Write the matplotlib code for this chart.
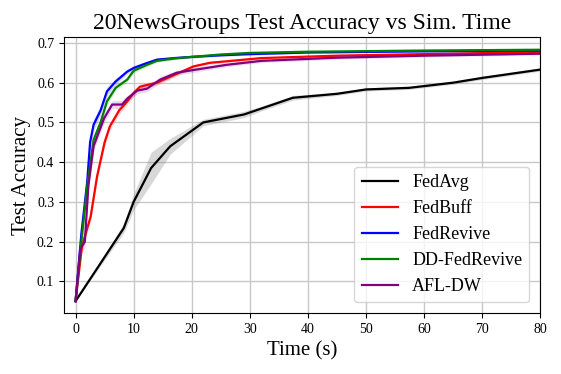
import numpy as np
import matplotlib
matplotlib.use("Agg")
import matplotlib.pyplot as plt

plt.rcParams["font.family"] = ["Liberation Serif", "DejaVu Serif"]

# ------------------------------------------------------------------
# DATA
# ------------------------------------------------------------------
fedavg_t = [0, 8.3, 10, 13, 16.3, 22, 29, 32, 37.4, 45, 50, 57.4, 65, 70, 80]
fedavg_acc = [0.05, 0.234, 0.30, 0.385, 0.44, 0.50, 0.52, 0.535, 0.562, 0.572, 0.583, 0.587, 0.60, 0.612, 0.633]
fedavg_std = [0.0, 0.012, 0.02, 0.04, 0.02, 0.008, 0.008, 0.006, 0.006, 0.004, 0.004, 0.004, 0.004, 0.004, 0.004]

fedbuff_t = [0, 1.1, 2.6, 3.7, 5.0, 5.9, 7.5, 8.9, 10, 11.1, 14, 16.3, 20.3, 23.1, 32, 45, 60, 80]
fedbuff_acc = [0.05, 0.188, 0.263, 0.364, 0.45, 0.49, 0.53, 0.553, 0.574, 0.59, 0.60, 0.615, 0.641, 0.65, 0.662, 0.668, 0.672, 0.677]
fedbuff_std = [0.0, 0.01, 0.012, 0.012, 0.012, 0.01, 0.01, 0.008, 0.008, 0.006, 0.006, 0.006, 0.004, 0.004, 0.003, 0.003, 0.003, 0.003]

fedrevive_t = [0, 1.0, 2.0, 2.5, 3.1, 4.3, 5.4, 6.9, 8.9, 10, 12, 14, 17, 20, 25, 30, 40, 60, 80]
fedrevive_acc = [0.05, 0.22, 0.35, 0.45, 0.494, 0.53, 0.578, 0.603, 0.628, 0.637, 0.648, 0.658, 0.662, 0.665, 0.669, 0.672, 0.676, 0.679, 0.681]
fedrevive_std = [0.0, 0.02, 0.02, 0.02, 0.015, 0.012, 0.012, 0.008, 0.006, 0.006, 0.005, 0.004, 0.003, 0.003, 0.003, 0.003, 0.002, 0.002, 0.002]

ddfedrevive_t = [0, 1.0, 2.0, 3.1, 4.3, 5.4, 6.9, 8.9, 10, 12.3, 14, 17, 20, 25, 30, 40, 60, 80]
ddfedrevive_acc = [0.05, 0.20, 0.34, 0.456, 0.50, 0.553, 0.587, 0.608, 0.63, 0.645, 0.655, 0.661, 0.665, 0.671, 0.675, 0.678, 0.681, 0.683]
ddfedrevive_std = [0.0, 0.015, 0.015, 0.012, 0.01, 0.01, 0.008, 0.006, 0.006, 0.005, 0.004, 0.003, 0.003, 0.003, 0.003, 0.002, 0.002, 0.002]

afldw_t = [0, 0.8, 1.6, 2.2, 3.1, 4.9, 6.3, 8.0, 8.9, 10.6, 12.3, 14.6, 17.4, 20.3, 26, 32, 45, 60, 80]
afldw_acc = [0.05, 0.18, 0.20, 0.34, 0.44, 0.51, 0.545, 0.545, 0.56, 0.58, 0.585, 0.608, 0.625, 0.632, 0.645, 0.655, 0.663, 0.668, 0.673]
afldw_std = [0.0, 0.015, 0.015, 0.015, 0.012, 0.012, 0.01, 0.01, 0.008, 0.008, 0.008, 0.008, 0.006, 0.006, 0.005, 0.004, 0.004, 0.003, 0.003]

series = [
    ("FedAvg", fedavg_t, fedavg_acc, fedavg_std, "black", "gray"),
    ("FedBuff", fedbuff_t, fedbuff_acc, fedbuff_std, "red", "red"),
    ("FedRevive", fedrevive_t, fedrevive_acc, fedrevive_std, "blue", "blue"),
    ("DD-FedRevive", ddfedrevive_t, ddfedrevive_acc, ddfedrevive_std, "green", "green"),
    ("AFL-DW", afldw_t, afldw_acc, afldw_std, "purple", "purple"),
]

# ------------------------------------------------------------------
# PLOT
# ------------------------------------------------------------------
fig = plt.figure(figsize=(5.61, 3.74), dpi=100)
ax = fig.add_axes([0.114, 0.163, 0.849, 0.738])

for name, t, acc, std, color, band in series:
    t = np.array(t)
    acc = np.array(acc)
    std = np.array(std)
    ax.fill_between(t, acc - std, acc + std, color=band, alpha=0.3 if band == "gray" else 0.15, linewidth=0)
    ax.plot(t, acc, color=color, linewidth=1.6, label=name)

ax.set_xlim(-2, 80)
ax.set_ylim(0.02, 0.715)
ax.set_xticks([0, 10, 20, 30, 40, 50, 60, 70, 80])
ax.set_yticks([0.1, 0.2, 0.3, 0.4, 0.5, 0.6, 0.7])
ax.tick_params(labelsize=10)
ax.grid(True, color="#c8c8c8", linewidth=1.0)
ax.set_axisbelow(True)

ax.set_title("20NewsGroups Test Accuracy vs Sim. Time", fontsize=17)
ax.set_xlabel("Time (s)", fontsize=15)
ax.set_ylabel("Test Accuracy", fontsize=15)
ax.legend(loc="lower right", fontsize=13, handlelength=2.0, borderaxespad=0.6)

fig.savefig("out.png", dpi=100)
